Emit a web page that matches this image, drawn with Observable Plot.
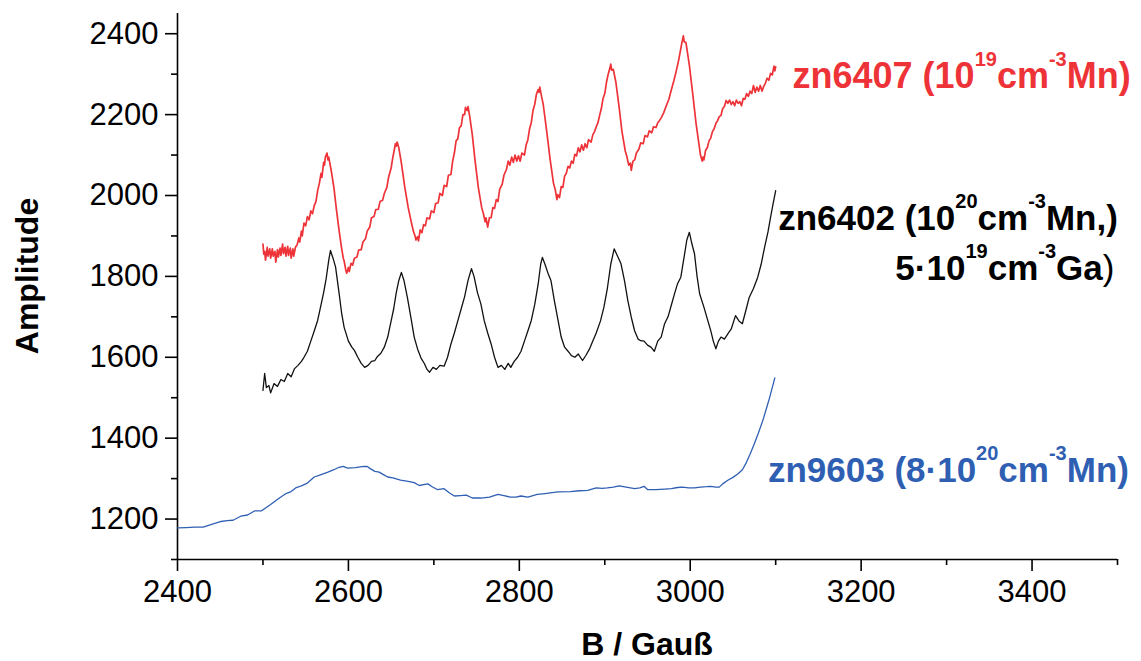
<!DOCTYPE html>
<html><head><meta charset="utf-8">
<script src="https://cdn.jsdelivr.net/npm/d3@7"></script>
<script src="https://cdn.jsdelivr.net/npm/@observablehq/plot@0.6"></script>
<style>
body{margin:0;background:#fff}
#chart svg{font-family:"Liberation Sans",Arial,sans-serif}
</style>
</head><body><div id="chart"></div>
<script>
// zn6407 (red)
const redB = [2500,2501,2502,2503,2505,2506,2508,2509,2511,2512,2514,2515,2517,2518,2520,2521,2523,2524,2526,2527,2529,2530,2532,2533,2535,2536,2538,2540,
2542,2543,2545,2546,2548,2550,2552,2554,2556,2558,2560,2562,2564,2566,2568,2569,2571,2572,2573,2575,2576,2577,
2580,2583,2586,2589,2592,2594,2595,2597,2598,2600,2601,2603,2605,2607,2610,2612,2615,2617,2620,2622,2625,2627,2630,2632,2635,2637,2640,2642,2645,2647,2650,2652,2653,2655,2656,2657,2659,
2662,2666,2670,2674,2676,2678,2679,2681,2682,2684,2686,2688,2690,2692,2695,2697,2700,2702,2705,2707,2710,2712,2715,2717,2720,2722,2724,2726,2728,2730,2732,2734,2736,2737,2739,2740,2742,
2745,2748,2752,2756,2758,2760,2761,2763,2765,2767,2769,2771,2773,2775,2777,2780,2782,2785,2787,2789,2791,2793,2795,2797,2799,2801,2803,2806,2808,2810,2812,2814,2816,2818,2820,2822,2823,2824,2826,2828,
2832,2836,2840,2842,2844,2845,2847,2849,2851,2853,2855,2857,2859,2861,2863,2865,2867,2869,2871,2873,2875,2877,2879,2881,2884,2886,2888,2890,2892,2894,2896,2898,2900,2902,2904,2906,2907,2908,2910,2913,
2917,2920,2924,2926,2928,2930,2931,2933,2935,2937,2940,2942,2945,2947,2950,2952,2955,2957,2960,2962,2964,2966,2969,2972,2975,2978,2981,2983,2986,2988,2990,2992,2993,2995,2997,2999,3003,
3007,3011,3012,3014,3015,3016,3018,3020,3022,3024,3026,3028,3030,3032,3034,3036,3038,3040,3042,3044,3046,3048,3050,3052,3054,3056,3058,3060,3062,3064,3066,3068,3070,3072,3074,3076,3078,3080,3082,3084,3086,3088,3090,3092,3094,3096,3098,3099,3100];
const redA = [1880,1855,1862,1840,1872,1850,1868,1845,1868,1850,1862,1835,1866,1848,1870,1852,1880,1856,1872,1850,1874,1852,1870,1845,1868,1850,1872,1878,
1895,1885,1912,1900,1932,1925,1948,1940,1962,1955,1975,1985,2012,2030,2055,2045,2082,2075,2095,2105,2088,2095,
2060,2020,1965,1915,1870,1845,1838,1815,1808,1822,1812,1832,1828,1845,1848,1865,1866,1885,1893,1912,1922,1945,1948,1965,1966,1985,1988,2005,2020,2045,2068,2095,2105,2128,2122,2132,2118,
2080,2020,1970,1930,1912,1900,1890,1898,1888,1915,1908,1928,1925,1945,1942,1962,1958,1980,1982,2005,2000,2025,2022,2050,2052,2085,2105,2135,2140,2168,2172,2200,2200,2218,2210,2220,2195,
2150,2090,2020,1970,1955,1935,1945,1922,1945,1945,1970,1968,1990,1985,2015,2028,2050,2065,2085,2075,2095,2082,2100,2085,2098,2085,2105,2100,2125,2138,2165,2180,2210,2225,2250,2262,2255,2268,2245,2225,
2160,2090,2030,2015,1990,2002,1995,2022,2020,2048,2055,2072,2068,2085,2080,2102,2098,2118,2108,2125,2112,2128,2118,2138,2132,2150,2158,2170,2180,2198,2215,2240,2252,2280,2300,2315,2325,2310,2312,2280,
2215,2160,2110,2095,2075,2080,2062,2085,2088,2105,2115,2130,2128,2148,2145,2160,2155,2170,2168,2180,2185,2192,2205,2222,2238,2262,2285,2302,2330,2352,2375,2395,2380,2378,2350,2322,2250,
2175,2115,2100,2085,2095,2088,2112,2118,2135,2142,2158,2165,2178,2185,2195,2198,2215,2220,2235,2228,2236,2225,2232,2222,2236,2228,2232,2222,2240,2238,2252,2245,2258,2252,2272,2255,2268,2258,2272,2258,2270,2278,2290,2285,2302,2298,2320,2308,2318];

// zn6402 (black)
const blackB = [2500,2502,2504,2507,2509,2513,2517,2521,2525,2529,2533,2537,2541,2545,2548,2552,2556,2560,2564,2568,2571,2574,2577,2579,2582,2585,2589,2592,2595,2600,2604,2607,2611,2615,2619,2623,2627,2631,2634,2638,2642,2646,2650,2653,2656,2659,2662,2665,2669,2673,2677,2681,2685,2689,2692,2695,2699,2703,2707,2712,2716,2720,2724,2728,2732,2736,2740,2744,2747,2751,2755,2759,2763,2767,2771,2775,2779,2783,2787,2790,2794,2798,2802,2806,2810,2814,2818,2822,2825,2827,2830,2834,2837,2841,2845,2849,2853,2857,2861,2865,2869,2874,2878,2882,2886,2890,2895,2899,2903,2907,2911,2915,2919,2923,2927,2931,2935,2939,2942,2946,2950,2954,2958,2962,2966,2970,2974,2978,2982,2985,2989,2993,2996,2999,3002,3005,3008,3011,3016,3020,3024,3027,3030,3033,3036,3040,3044,3048,3053,3057,3061,3065,3069,3074,3079,3083,3087,3091,3094,3097,3100];
const blackA = [1518,1560,1525,1530,1512,1535,1528,1545,1540,1560,1552,1572,1580,1590,1600,1615,1640,1665,1691,1730,1760,1795,1840,1864,1845,1823,1760,1710,1674,1640,1625,1617,1600,1585,1575,1580,1590,1592,1602,1610,1625,1650,1690,1720,1760,1790,1810,1790,1748,1700,1650,1620,1598,1584,1570,1563,1575,1570,1580,1578,1600,1633,1660,1690,1720,1750,1790,1819,1800,1760,1732,1690,1660,1633,1600,1575,1580,1570,1585,1575,1590,1600,1615,1640,1665,1691,1730,1780,1830,1847,1830,1805,1790,1740,1695,1650,1625,1615,1604,1600,1608,1592,1605,1620,1640,1660,1690,1724,1770,1830,1868,1850,1831,1790,1740,1699,1665,1645,1641,1640,1630,1625,1615,1640,1650,1683,1700,1730,1760,1781,1798,1850,1890,1909,1880,1856,1800,1757,1724,1695,1666,1640,1621,1640,1650,1645,1658,1670,1703,1690,1683,1715,1748,1770,1798,1830,1872,1910,1946,1980,2012];

// zn9603 (blue)
const blueB = [2400,2410,2420,2430,2440,2451,2458,2465,2474,2482,2490,2498,2509,2518,2527,2533,2539,2545,2552,2560,2568,2576,2583,2589,2594,2599,2608,2618,2622,2626,2631,2636,2641,2646,2652,2661,2670,2677,2683,2688,2693,2698,2704,2712,2718,2724,2731,2738,2745,2755,2765,2775,2782,2790,2796,2802,2810,2816,2821,2830,2845,2860,2870,2880,2890,2897,2903,2910,2917,2925,2935,2941,2946,2950,2960,2970,2978,2985,2991,2998,3005,3012,3019,3024,3030,3034,3038,3044,3050,3056,3061,3065,3070,3075,3080,3085,3089,3093,3096,3099];
const blueA = [1178,1179,1180,1180,1187,1194,1196,1197,1207,1210,1220,1220,1236,1250,1263,1268,1278,1282,1289,1304,1310,1316,1322,1328,1330,1326,1327,1330,1330,1324,1318,1316,1310,1304,1302,1296,1293,1290,1283,1285,1287,1280,1273,1275,1265,1257,1258,1259,1252,1252,1254,1261,1258,1254,1254,1257,1254,1258,1261,1263,1267,1268,1270,1271,1277,1276,1277,1279,1282,1279,1275,1277,1281,1273,1273,1274,1275,1278,1279,1277,1277,1279,1280,1281,1279,1279,1287,1296,1303,1312,1322,1337,1360,1386,1414,1444,1472,1501,1525,1549];

const xMajor = [2400,2600,2800,3000,3200,3400];
const xMinor = [2500,2700,2900,3100,3300,3500];
const yMajor = [1200,1400,1600,1800,2000,2200,2400];
const yMinor = [1100,1300,1500,1700,1900,2100,2300];

const colors = {red:"#EE3338", black:"#111111", blue:"#2F5FB3"};

const zip = (B, A) => B.slice(0, Math.min(B.length, A.length)).map((b, i) => ({B: b, A: A[i]}));
const red = zip(redB, redA), black = zip(blackB, blackA), blue = zip(blueB, blueA);

const font = "Liberation Sans, Arial, sans-serif";

const plot = Plot.plot({
  width: 1141, height: 661,
  marginLeft: 177, marginRight: 24, marginTop: 13, marginBottom: 102,
  style: {fontFamily: font, background: "white", color: "black"},
  x: {domain: [2400, 3500]},
  y: {domain: [1100, 2450]},
  marks: [
    Plot.axisX(xMajor, {tickSize: 12, tickPadding: 8, fontSize: 31, tickFormat: "d", label: null, strokeWidth: 1.6}),
    Plot.axisX(xMinor, {tickSize: 6, tickFormat: () => "", label: null, strokeWidth: 1.6}),
    Plot.axisY(yMajor, {tickSize: 12, tickPadding: 7, fontSize: 31, tickFormat: "d", label: null, strokeWidth: 1.6}),
    Plot.axisY(yMinor, {tickSize: 6, tickFormat: () => "", label: null, strokeWidth: 1.6}),
    Plot.ruleY([1100], {strokeWidth: 1.6}),
    Plot.ruleX([2400], {strokeWidth: 1.6}),
    Plot.line(blue, {x: "B", y: "A", stroke: colors.blue, strokeWidth: 1.3}),
    Plot.line(black, {x: "B", y: "A", stroke: colors.black, strokeWidth: 1.3}),
    Plot.line(red, {x: "B", y: "A", stroke: colors.red, strokeWidth: 1.7})
  ]
});
document.getElementById("chart").appendChild(plot);

const svg = d3.select(plot);
const sx = plot.scale("x"), sy = plot.scale("y");

// axis titles
svg.append("text")
  .attr("x", (sx.apply(2400) + sx.apply(3500)) / 2)
  .attr("y", 655)
  .attr("text-anchor", "middle")
  .attr("font-size", 32).attr("font-weight", "bold").attr("fill", "black")
  .text("B / Gauß");
svg.append("text")
  .attr("transform", `translate(38,${(sy.apply(1100) + sy.apply(2450)) / 2 - 10}) rotate(-90)`)
  .attr("text-anchor", "middle")
  .attr("font-size", 32).attr("font-weight", "bold").attr("fill", "black")
  .text("Amplitude");

// series labels with superscripts: parts [text, kind] (1 = superscript, 2 = normal weight)
const labels = [
  {B: 3516, A: 2264, color: colors.red, size: 36, parts: [["zn6407 (10",0],["19",1],["cm",0],["-3",1],["Mn)",0]]},
  {B: 3501, A: 1913, color: "black", size: 35, parts: [["zn6402 (10",0],["20",1],["cm",0],["-3",1],["Mn,)",0]]},
  {B: 3497, A: 1790, color: "black", size: 35, parts: [["5·10",0],["19",1],["cm",0],["-3",1],["Ga",0],[")",2]]},
  {B: 3514, A: 1291, color: colors.blue, size: 35, parts: [["zn9603 (8·10",0],["20",1],["cm",0],["-3",1],["Mn)",0]]}
];
for (const L of labels) {
  const t = svg.append("text")
    .attr("x", sx.apply(L.B)).attr("y", sy.apply(L.A))
    .attr("text-anchor", "end")
    .attr("font-size", L.size).attr("font-weight", "bold").attr("fill", L.color);
  let raised = false;
  const up = Math.round(L.size * 0.62);
  for (const [s, kind] of L.parts) {
    const sp = t.append("tspan").text(s);
    if (kind === 1) {
      sp.attr("font-size", Math.round(L.size * 0.56)).attr("dy", raised ? 0 : -up);
      raised = true;
    } else {
      if (raised) sp.attr("dy", up);
      raised = false;
      if (kind === 2) sp.attr("font-weight", "normal");
    }
  }
}
</script>
</body></html>
